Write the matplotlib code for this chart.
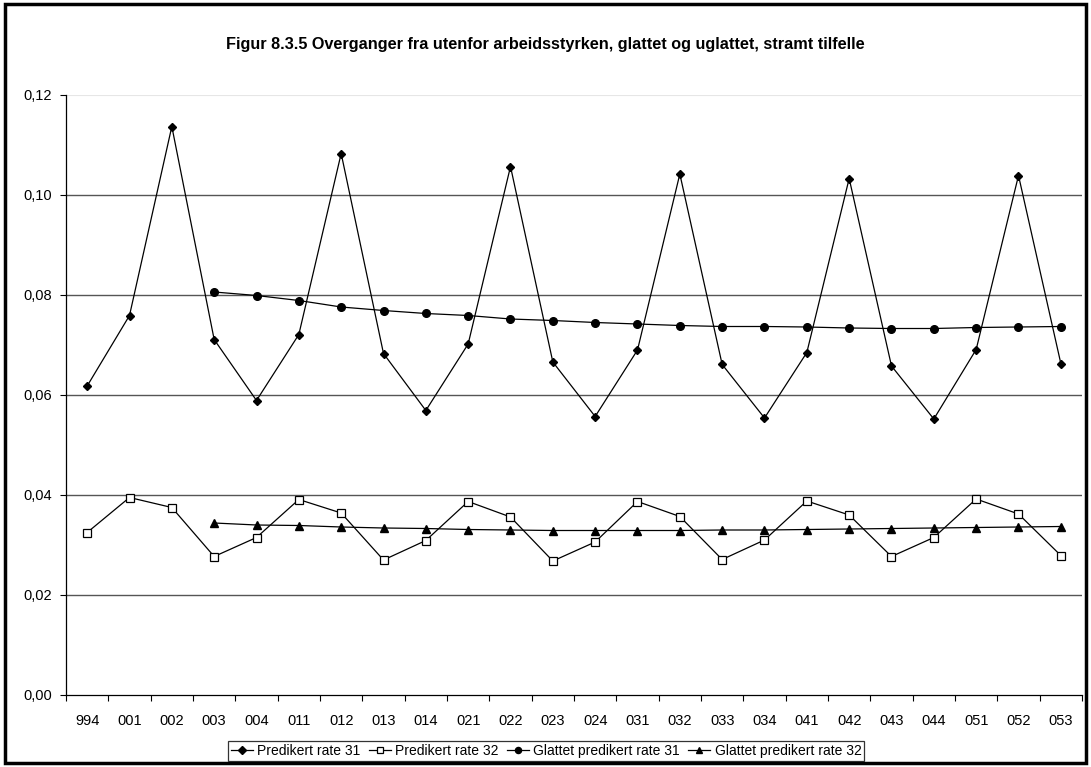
import matplotlib
matplotlib.use("Agg")
import matplotlib.pyplot as plt
from matplotlib.patches import Rectangle
import numpy as np

plt.rcParams['font.family'] = ['Liberation Sans', 'DejaVu Sans']

categories = ["994", "001", "002", "003", "004", "011", "012", "013", "014",
              "021", "022", "023", "024", "031", "032", "033", "034",
              "041", "042", "043", "044", "051", "052", "053"]

pred31 = [0.0618, 0.0759, 0.1137, 0.0711, 0.0589, 0.0721, 0.1083, 0.0683, 0.0569,
          0.0702, 0.1057, 0.0666, 0.0557, 0.0690, 0.1042, 0.0661, 0.0554,
          0.0685, 0.1033, 0.0658, 0.0552, 0.0691, 0.1039, 0.0663]
pred32 = [0.0325, 0.0395, 0.0375, 0.0277, 0.0315, 0.0391, 0.0364, 0.0270, 0.0309,
          0.0387, 0.0356, 0.0268, 0.0306, 0.0387, 0.0357, 0.0271, 0.0310,
          0.0388, 0.0360, 0.0277, 0.0315, 0.0392, 0.0362, 0.0279]
glatt31 = [None, None, None, 0.0806, 0.0799, 0.0789, 0.0776, 0.0769, 0.0763,
           0.0759, 0.0752, 0.0749, 0.0745, 0.0742, 0.0739, 0.0737, 0.0737,
           0.0736, 0.0734, 0.0733, 0.0733, 0.0735, 0.0736, 0.0737]
glatt32 = [None, None, None, 0.0344, 0.0340, 0.0339, 0.0336, 0.0334, 0.0333,
           0.0331, 0.0330, 0.0329, 0.0329, 0.0329, 0.0329, 0.0330, 0.0330,
           0.0331, 0.0332, 0.0333, 0.0334, 0.0335, 0.0336, 0.0337]

title = "Figur 8.3.5 Overganger fra utenfor arbeidsstyrken, glattet og uglattet, stramt tilfelle"
yticks = [0.0, 0.02, 0.04, 0.06, 0.08, 0.10, 0.12]

def to_arr(v):
    return np.array([np.nan if x is None else x for x in v], dtype=float)

fig = plt.figure(figsize=(10.91, 7.67), dpi=100)
fig.patches.append(Rectangle((5/1091, 4/767), 1 - 10/1091, 1 - 8/767,
                             transform=fig.transFigure, fill=False,
                             edgecolor='black', linewidth=2.5))
ax = fig.add_axes([66/1091, (767-695)/767, (1082-66)/1091, (695-95)/767])

x = np.arange(len(categories))
lw = 0.9
ax.plot(x, to_arr(pred31), color='black', lw=lw, marker='D', markersize=4.5,
        markerfacecolor='black', label='Predikert rate 31')
ax.plot(x, to_arr(pred32), color='black', lw=lw, marker='s', markersize=5.5,
        markerfacecolor='white', markeredgewidth=0.9, label='Predikert rate 32')
ax.plot(x, to_arr(glatt31), color='black', lw=lw, marker='o', markersize=5.5,
        markerfacecolor='black', label='Glattet predikert rate 31')
ax.plot(x, to_arr(glatt32), color='black', lw=lw, marker='^', markersize=5.5,
        markerfacecolor='black', label='Glattet predikert rate 32')

ax.set_xlim(-0.5, len(categories) - 0.5)
ax.set_ylim(0, 0.12)
ax.set_yticks(yticks)
ax.set_yticklabels([f"{v:.2f}".replace('.', ',') for v in yticks], fontsize=10.5)
for v in yticks[1:-1]:
    ax.axhline(v, color='#555555', lw=1.0, zorder=0)
ax.axhline(0.12, color='#e6e6e6', lw=0.8, zorder=0)

ax.set_xticks(x)
ax.set_xticklabels(categories, fontsize=10.5)
ax.set_xticks(np.arange(-0.5, len(categories)), minor=True)
ax.tick_params(axis='x', which='major', length=0, pad=14)
ax.tick_params(axis='x', which='minor', length=4, width=0.8, direction='out')
ax.tick_params(axis='y', length=4, width=0.8, direction='out', pad=6)

for s in ['top', 'right']:
    ax.spines[s].set_visible(False)
ax.spines['left'].set_linewidth(0.9)
ax.spines['bottom'].set_linewidth(0.9)

fig.text(0.5, (767-45)/767, title, ha='center', va='center',
         fontsize=11.7, fontweight='bold')

leg = fig.legend(loc='center', bbox_to_anchor=(546/1091, (767-751)/767), ncol=4,
                 fontsize=10, frameon=True, fancybox=False, edgecolor='black',
                 handlelength=1.6, handletextpad=0.3, columnspacing=0.6,
                 borderpad=0.2, markerscale=0.8)
leg.get_frame().set_linewidth(0.9)

fig.savefig("out.png", dpi=100)
